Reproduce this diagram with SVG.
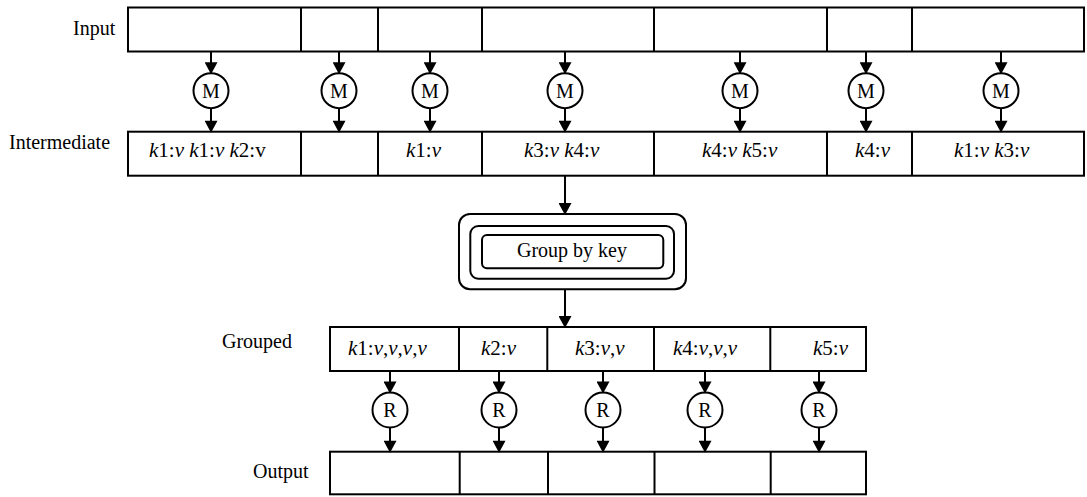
<svg xmlns="http://www.w3.org/2000/svg" width="1087" height="497" viewBox="0 0 1087 497">
<defs>
<style>
.box{fill:#fff;stroke:#000;stroke-width:2}
.div{stroke:#000;stroke-width:2}
.conn{stroke:#000;stroke-width:2;fill:none}
.circ{fill:#fff;stroke:#000;stroke-width:2}
.lbl{font-size:20px}
.cell{font-size:21px}
.op{font-size:20px;text-anchor:middle}
.i{font-style:italic}
</style>
<marker id="ah" markerUnits="userSpaceOnUse" markerWidth="13" markerHeight="13" viewBox="0 0 12 13" refX="11" refY="6.5" orient="auto">
<path d="M0,0 L12,6.5 L0,13 z" fill="#000"/>
</marker>
</defs>
<rect width="1087" height="497" fill="#fff"/>

<g id="input">
<text class="lbl" font-family="Liberation Serif" x="73" y="35">Input</text>
<rect class="box" x="128" y="7.5" width="956" height="44"/>
<path class="div" d="M301,7.5V51.5 M378,7.5V51.5 M482,7.5V51.5 M654,7.5V51.5 M827,7.5V51.5 M912,7.5V51.5"/>
</g>

<g id="intermediate">
<text class="lbl" font-family="Liberation Serif" x="9" y="149">Intermediate</text>
<rect class="box" x="128" y="131.7" width="956" height="44"/>
<path class="div" d="M301,131.7V175.7 M378,131.7V175.7 M482,131.7V175.7 M654,131.7V175.7 M827,131.7V175.7 M912,131.7V175.7"/>
<text class="cell" font-family="Liberation Serif" x="149" y="157"><tspan class="i">k</tspan>1:<tspan class="i">v</tspan> <tspan class="i">k</tspan>1:<tspan class="i">v</tspan> <tspan class="i">k</tspan>2:v</text>
<text class="cell" font-family="Liberation Serif" x="406" y="157"><tspan class="i">k</tspan>1:<tspan class="i">v</tspan></text>
<text class="cell" font-family="Liberation Serif" x="524" y="157"><tspan class="i">k</tspan>3:<tspan class="i">v</tspan> <tspan class="i">k</tspan>4:<tspan class="i">v</tspan></text>
<text class="cell" font-family="Liberation Serif" x="702" y="157"><tspan class="i">k</tspan>4:<tspan class="i">v</tspan> <tspan class="i">k</tspan>5:<tspan class="i">v</tspan></text>
<text class="cell" font-family="Liberation Serif" x="855" y="157"><tspan class="i">k</tspan>4:<tspan class="i">v</tspan></text>
<text class="cell" font-family="Liberation Serif" x="954" y="157"><tspan class="i">k</tspan>1:<tspan class="i">v</tspan> <tspan class="i">k</tspan>3:<tspan class="i">v</tspan></text>
</g>

<g id="map-ops" font-family="Liberation Serif">
<circle class="circ" cx="211" cy="90.7" r="17.5"/><text class="op" x="211" y="97.5">M</text>
<circle class="circ" cx="339" cy="90.7" r="17.5"/><text class="op" x="339" y="97.5">M</text>
<circle class="circ" cx="430" cy="90.7" r="17.5"/><text class="op" x="430" y="97.5">M</text>
<circle class="circ" cx="565" cy="90.7" r="17.5"/><text class="op" x="565" y="97.5">M</text>
<circle class="circ" cx="740" cy="90.7" r="17.5"/><text class="op" x="740" y="97.5">M</text>
<circle class="circ" cx="866" cy="90.7" r="17.5"/><text class="op" x="866" y="97.5">M</text>
<circle class="circ" cx="1001" cy="90.7" r="17.5"/><text class="op" x="1001" y="97.5">M</text>
</g>

<g id="group-by-key">
<rect class="box" x="459" y="214" width="227" height="75.3" rx="11"/>
<rect class="box" x="470.3" y="226" width="203.7" height="52.7" rx="8"/>
<rect class="box" x="482" y="235" width="181.3" height="33.3" rx="5"/>
<text class="lbl" font-family="Liberation Serif" x="572" y="257" text-anchor="middle">Group by key</text>
</g>

<g id="grouped">
<text class="lbl" font-family="Liberation Serif" x="222" y="348">Grouped</text>
<rect class="box" x="330" y="327" width="536" height="44"/>
<path class="div" d="M459,327V371 M547.3,327V371 M654,327V371 M770.3,327V371"/>
<text class="cell" font-family="Liberation Serif" x="348" y="355"><tspan class="i">k</tspan>1:<tspan class="i">v</tspan>,<tspan class="i">v</tspan>,<tspan class="i">v</tspan>,<tspan class="i">v</tspan></text>
<text class="cell" font-family="Liberation Serif" x="481" y="355"><tspan class="i">k</tspan>2:<tspan class="i">v</tspan></text>
<text class="cell" font-family="Liberation Serif" x="575" y="355"><tspan class="i">k</tspan>3:<tspan class="i">v</tspan>,<tspan class="i">v</tspan></text>
<text class="cell" font-family="Liberation Serif" x="673" y="355"><tspan class="i">k</tspan>4:<tspan class="i">v</tspan>,<tspan class="i">v</tspan>,<tspan class="i">v</tspan></text>
<text class="cell" font-family="Liberation Serif" x="813" y="355"><tspan class="i">k</tspan>5:<tspan class="i">v</tspan></text>
</g>

<g id="reduce-ops" font-family="Liberation Serif">
<circle class="circ" cx="390" cy="410" r="17.5"/><text class="op" x="390" y="417">R</text>
<circle class="circ" cx="499" cy="410" r="17.5"/><text class="op" x="499" y="417">R</text>
<circle class="circ" cx="603" cy="410" r="17.5"/><text class="op" x="603" y="417">R</text>
<circle class="circ" cx="705" cy="410" r="17.5"/><text class="op" x="705" y="417">R</text>
<circle class="circ" cx="819" cy="410" r="17.5"/><text class="op" x="819" y="417">R</text>
</g>

<g id="output">
<text class="lbl" font-family="Liberation Serif" x="253" y="478">Output</text>
<rect class="box" x="330" y="451.7" width="536" height="42.6"/>
<path class="div" d="M459.7,451.7V494.3 M548,451.7V494.3 M654.5,451.7V494.3 M770.7,451.7V494.3"/>
</g>

<g id="connectors">
<path class="conn" marker-end="url(#ah)" d="M211,51.5V73.2"/>
<path class="conn" marker-end="url(#ah)" d="M339,51.5V73.2"/>
<path class="conn" marker-end="url(#ah)" d="M430,51.5V73.2"/>
<path class="conn" marker-end="url(#ah)" d="M565,51.5V73.2"/>
<path class="conn" marker-end="url(#ah)" d="M740,51.5V73.2"/>
<path class="conn" marker-end="url(#ah)" d="M866,51.5V73.2"/>
<path class="conn" marker-end="url(#ah)" d="M1001,51.5V73.2"/>
<path class="conn" marker-end="url(#ah)" d="M211,108.2V131.7"/>
<path class="conn" marker-end="url(#ah)" d="M339,108.2V131.7"/>
<path class="conn" marker-end="url(#ah)" d="M430,108.2V131.7"/>
<path class="conn" marker-end="url(#ah)" d="M565,108.2V131.7"/>
<path class="conn" marker-end="url(#ah)" d="M740,108.2V131.7"/>
<path class="conn" marker-end="url(#ah)" d="M866,108.2V131.7"/>
<path class="conn" marker-end="url(#ah)" d="M1001,108.2V131.7"/>
<path class="conn" marker-end="url(#ah)" d="M565,175.7V214"/>
<path class="conn" marker-end="url(#ah)" d="M565,289.3V327"/>
<path class="conn" marker-end="url(#ah)" d="M390,371V392.5"/>
<path class="conn" marker-end="url(#ah)" d="M499,371V392.5"/>
<path class="conn" marker-end="url(#ah)" d="M603,371V392.5"/>
<path class="conn" marker-end="url(#ah)" d="M705,371V392.5"/>
<path class="conn" marker-end="url(#ah)" d="M819,371V392.5"/>
<path class="conn" marker-end="url(#ah)" d="M390,427.5V451.7"/>
<path class="conn" marker-end="url(#ah)" d="M499,427.5V451.7"/>
<path class="conn" marker-end="url(#ah)" d="M603,427.5V451.7"/>
<path class="conn" marker-end="url(#ah)" d="M705,427.5V451.7"/>
<path class="conn" marker-end="url(#ah)" d="M819,427.5V451.7"/>
</g>
</svg>
